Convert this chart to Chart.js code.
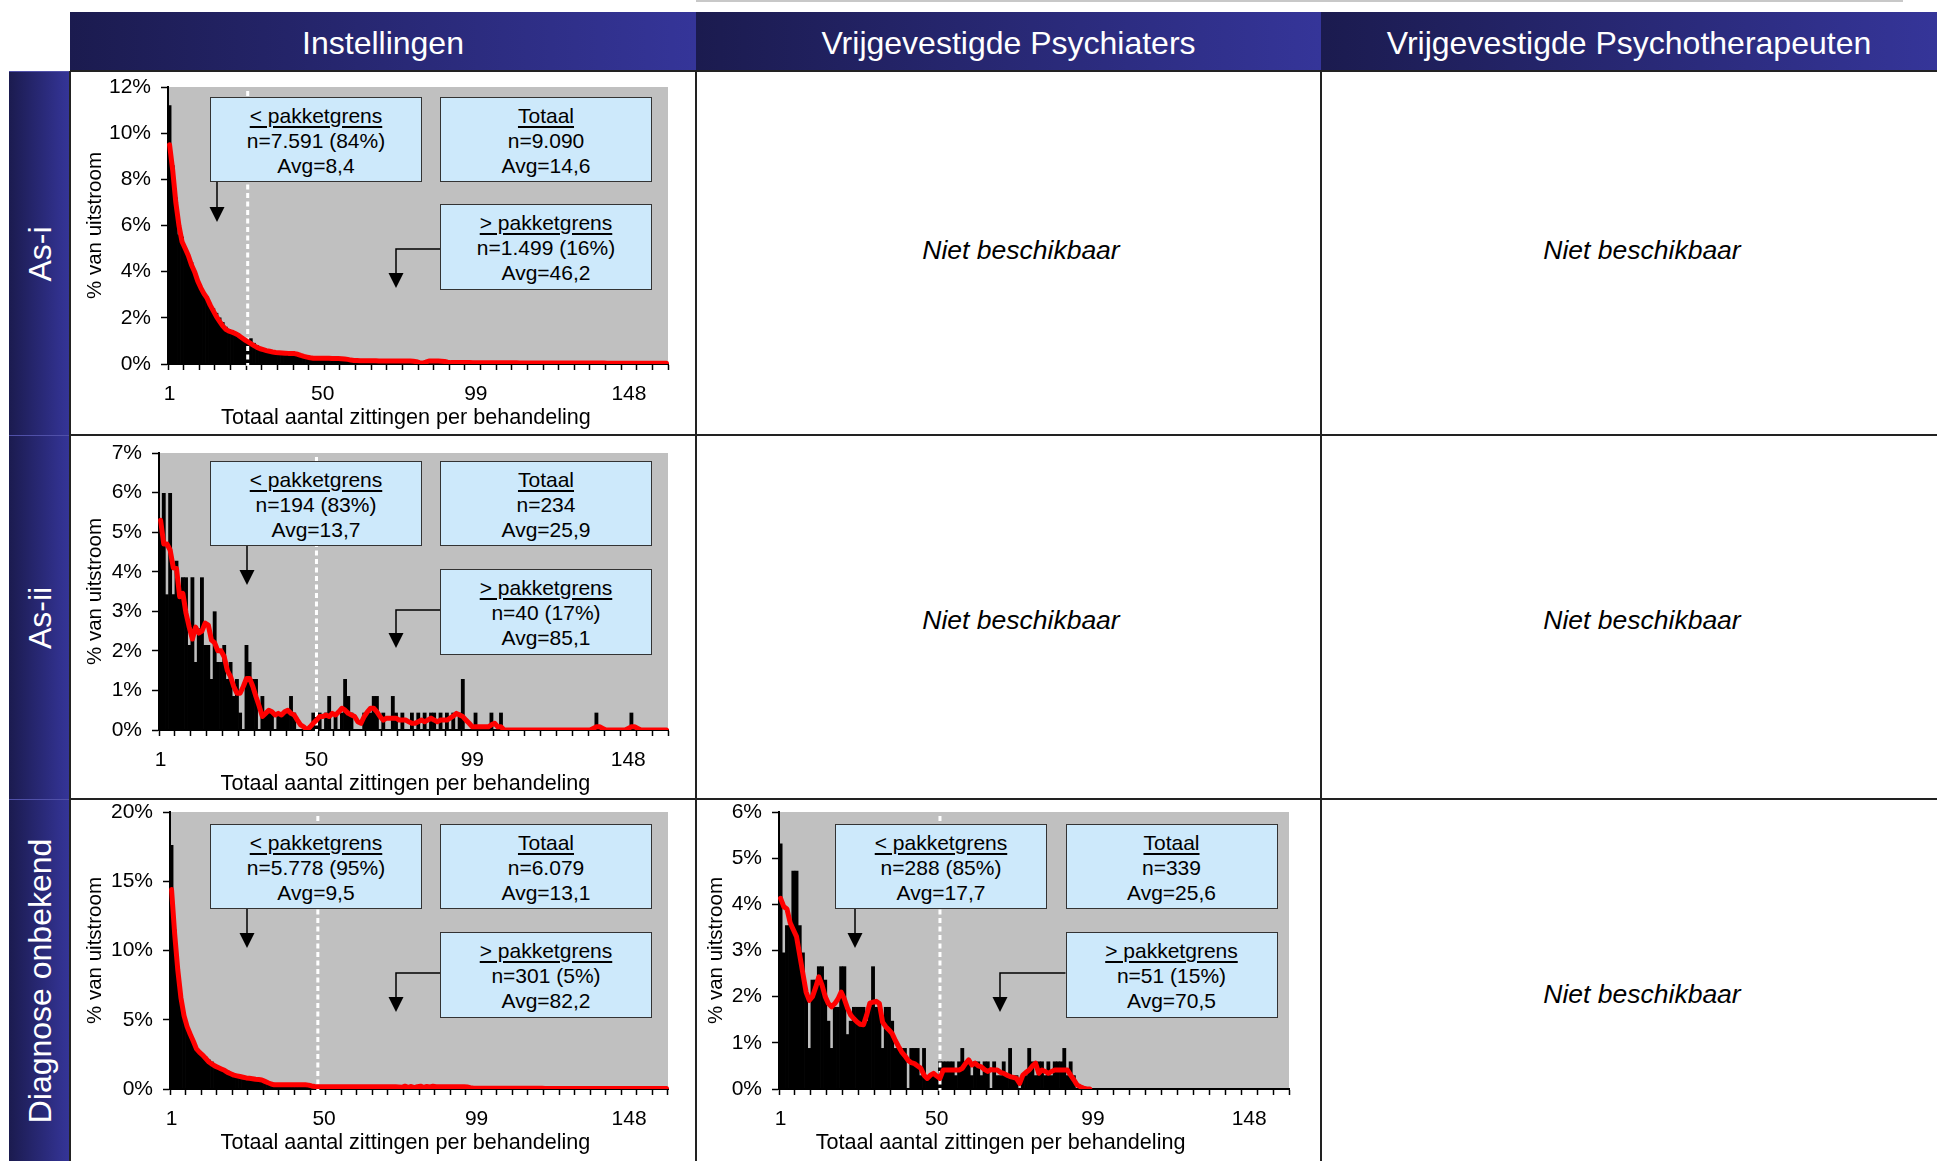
<!DOCTYPE html>
<html>
<head>
<meta charset="utf-8">
<script src="https://cdn.jsdelivr.net/npm/chart.js@4.4.1/dist/chart.umd.min.js"></script>
<style>
  body { margin: 0; width: 1937px; height: 1161px; position: relative; background: #fff; overflow: hidden;
         font-family: 'Liberation Sans', Arial, sans-serif; color: #000; }
  .head { position: absolute; top: 12px; height: 59px; color: #fff; font-size: 32px; padding-top: 4px; box-sizing: border-box;
          background: linear-gradient(to right, #1b1b4f, #353599); display: flex; align-items: center; justify-content: center; }
  .rowlab { position: absolute; left: 9px; width: 61px; background: linear-gradient(to right, #1b1b4f, #353599);
            border-top: 1px solid #5050a8; box-sizing: border-box; }
  .rowlab span { position: absolute; left: 50%; top: 50%; transform: translate(-50%, -50%) rotate(-90deg);
                 color: #fff; font-size: 32px; white-space: nowrap; }
  .line { position: absolute; background: #222; }
  .cell { position: absolute; }
  .cell canvas, .cell svg { position: absolute; left: 0; top: 0; }
  .box { position: absolute; background: #cde9fb; border: 1.5px solid #333; box-sizing: border-box;
         text-align: center; font-size: 21px; line-height: 25px; padding-top: 5px; height: 85px; }
  .box .t { text-decoration: underline; text-decoration-thickness: 2px; text-underline-offset: 3px; }
  .na { position: absolute; font-style: italic; font-size: 26.5px; transform: translate(-50%, -50%); white-space: nowrap; }
  .xt { position: absolute; font-size: 21.6px; transform: translate(-50%, -50%); white-space: nowrap; }
</style>
</head>
<body>
<div class="line" style="left:696px;top:0;width:1207px;height:2px;background:#c8c8c8"></div>
<div class="head" style="left:70px;width:626px">Instellingen</div>
<div class="head" style="left:696px;width:625px">Vrijgevestigde Psychiaters</div>
<div class="head" style="left:1321px;width:616px">Vrijgevestigde Psychotherapeuten</div>
<div class="rowlab" style="top:71px;height:364px"><span>As-i</span></div>
<div class="rowlab" style="top:435px;height:364px"><span>As-ii</span></div>
<div class="rowlab" style="top:799px;height:362px"><span>Diagnose onbekend</span></div>
<div class="line" style="left:70px;top:70px;width:1867px;height:2px"></div>
<div class="line" style="left:70px;top:434px;width:1867px;height:1.5px"></div>
<div class="line" style="left:70px;top:798px;width:1867px;height:1.5px"></div>
<div class="line" style="left:695px;top:71px;width:1.5px;height:1090px"></div>
<div class="line" style="left:1320px;top:71px;width:1.5px;height:1090px"></div>
<div class="line" style="left:69px;top:71px;width:1.5px;height:1090px"></div>
<div class="na" style="left:1021px;top:250px">Niet beschikbaar</div>
<div class="na" style="left:1642px;top:250px">Niet beschikbaar</div>
<div class="na" style="left:1021px;top:620px">Niet beschikbaar</div>
<div class="na" style="left:1642px;top:620px">Niet beschikbaar</div>
<div class="na" style="left:1642px;top:994px">Niet beschikbaar</div>

<script>
// Categories: total number of sessions per treatment
const sessions = [];
for (let i = 1; i <= 160; i++) sessions.push(String(i));
const shownTicks = ['1', '50', '99', '148'];

// As-i, Instellingen (% van uitstroom)
const asIBars = [
  11.2, 8.6, 7.2, 5.6, 5.5, 5.0, 4.6, 4.4, 3.9, 3.6,
  3.3, 3.1, 2.9, 2.6, 2.4, 2.2, 2.0, 1.8, 1.6, 1.5,
  1.45, 1.35, 1.3, 1.2, 1.1, 1.05, 1.1, 0.9, 0.8, 0.7,
  0.65, 0.6, 0.58, 0.52, 0.5, 0.5, 0.48, 0.47, 0.46, 0.46,
  0.44, 0.4, 0.35, 0.32, 0.3, 0.27, 0.25, 0.24, 0.23, 0.22,
  0.22, 0.21, 0.22, 0.2, 0.21, 0.2, 0.18, 0.15, 0.14, 0.13,
  0.12, 0.13, 0.12, 0.12, 0.11, 0.12, 0.11, 0.12, 0.1, 0.11,
  0.1, 0.11, 0.1, 0.12, 0.1, 0.1, 0.09, 0.1, 0.08, 0.1,
  0.07, 0.05, 0.1, 0.12, 0.11, 0.12, 0.1, 0.11, 0.1, 0.09,
  0.06, 0.05, 0.06, 0.05, 0.05, 0.06, 0.04, 0.05, 0.05, 0.04,
  0.04, 0.05, 0.04, 0.03, 0.04, 0.04, 0.03, 0.04, 0.03, 0.03,
  0.04, 0.03, 0.03, 0.04, 0.03, 0.02, 0.03, 0.03, 0.02, 0.03,
  0.03, 0.02, 0.03, 0.02, 0.03, 0.02, 0.02, 0.03, 0.02, 0.02,
  0.03, 0.02, 0.02, 0.02, 0.03, 0.02, 0.02, 0.02, 0.01, 0.02,
  0.02, 0.01, 0.02, 0.02, 0.01, 0.02, 0.01, 0.02, 0.01, 0.01,
  0.02, 0.01, 0.01, 0.01, 0.02, 0.01, 0.01, 0.01, 0.01, 0.02
];
const asIAvg = [
  9.5, 8.4, 7.0, 6.0, 5.3, 5.0, 4.7, 4.3, 4.0, 3.6,
  3.3, 3.05, 2.85, 2.55, 2.3, 2.05, 1.85, 1.65, 1.5, 1.42,
  1.38, 1.32, 1.25, 1.15, 1.05, 0.97, 0.88, 0.8, 0.72, 0.66,
  0.62, 0.58, 0.55, 0.52, 0.5, 0.49, 0.48, 0.47, 0.46, 0.46,
  0.45, 0.42, 0.37, 0.33, 0.3, 0.27, 0.25, 0.25, 0.25, 0.25,
  0.25, 0.25, 0.24, 0.24, 0.24, 0.23, 0.22, 0.2, 0.17, 0.15,
  0.15, 0.14, 0.14, 0.14, 0.14, 0.14, 0.14, 0.13, 0.13, 0.13,
  0.13, 0.13, 0.13, 0.13, 0.13, 0.13, 0.13, 0.13, 0.12, 0.1,
  0.06, 0.04, 0.08, 0.13, 0.13, 0.13, 0.13, 0.12, 0.11, 0.08,
  0.06, 0.06, 0.06, 0.06, 0.06, 0.06, 0.06, 0.05, 0.05, 0.05,
  0.05, 0.05, 0.05, 0.05, 0.05, 0.05, 0.05, 0.05, 0.05, 0.05,
  0.05, 0.05, 0.04, 0.04, 0.04, 0.04, 0.04, 0.04, 0.04, 0.04,
  0.04, 0.04, 0.04, 0.04, 0.04, 0.04, 0.04, 0.04, 0.04, 0.04,
  0.04, 0.04, 0.04, 0.04, 0.04, 0.04, 0.04, 0.04, 0.04, 0.04,
  0.03, 0.03, 0.03, 0.03, 0.03, 0.03, 0.03, 0.03, 0.03, 0.03,
  0.03, 0.03, 0.03, 0.03, 0.03, 0.03, 0.03, 0.03, 0.03, 0.03
];

// As-ii, Instellingen
const asIIBars = [
  5.13, 5.98, 3.42, 5.98, 3.42, 4.27, 3.42, 3.85, 3.85, 2.14,
  3.85, 1.71, 2.56, 3.85, 2.14, 2.14, 1.28, 2.99, 1.71, 1.71,
  2.14, 1.28, 1.71, 0.85, 1.28, 0.43, 0, 2.14, 1.71, 1.28,
  1.28, 0, 0.85, 0.43, 0.43, 0.43, 0, 0.43, 0.43, 0.43,
  0.43, 0.85, 0.43, 0, 0, 0, 0, 0, 0.43, 0.43,
  0.43, 0, 0.43, 0.85, 0, 0.43, 0, 0.43, 1.28, 0.85,
  0.43, 0, 0, 0, 0.43, 0.43, 0.43, 0.85, 0.85, 0,
  0.43, 0, 0, 0.85, 0.43, 0, 0.43, 0, 0, 0.43,
  0, 0.43, 0, 0.43, 0, 0.43, 0.43, 0, 0.43, 0,
  0.43, 0, 0.43, 0, 0.43, 1.28, 0, 0, 0, 0.43,
  0, 0, 0, 0, 0.43, 0, 0, 0.43, 0, 0,
  0, 0, 0, 0, 0, 0, 0, 0, 0, 0,
  0, 0, 0, 0, 0, 0, 0, 0, 0, 0,
  0, 0, 0, 0, 0, 0, 0, 0.43, 0, 0,
  0, 0, 0, 0, 0, 0, 0, 0, 0.43, 0,
  0, 0, 0, 0, 0, 0, 0, 0, 0, 0
];
const asIIAvg = [
  5.3, 4.7, 4.7, 4.55, 4.1, 4.08, 3.37, 3.45, 2.95, 2.6,
  2.3, 2.6, 2.45, 2.5, 2.7, 2.65, 2.27, 2.2, 2.0, 2.0,
  1.85, 1.5, 1.35, 1.1, 0.93, 0.93, 1.1, 1.3, 1.3, 1.1,
  0.84, 0.6, 0.34, 0.42, 0.5, 0.46, 0.38, 0.42, 0.38, 0.46,
  0.5, 0.42, 0.38, 0.25, 0.13, 0.08, 0, 0.08, 0.17, 0.25,
  0.34, 0.34, 0.38, 0.34, 0.42, 0.38, 0.46, 0.55, 0.5, 0.42,
  0.38, 0.34, 0.21, 0.17, 0.34, 0.46, 0.55, 0.55, 0.46, 0.34,
  0.25, 0.3, 0.3, 0.3, 0.3, 0.25, 0.25, 0.25, 0.21, 0.17,
  0.17, 0.21, 0.25, 0.21, 0.25, 0.3, 0.25, 0.21, 0.25, 0.25,
  0.25, 0.3, 0.35, 0.42, 0.38, 0.34, 0.25, 0.17, 0.08, 0.08,
  0.08, 0.08, 0.08, 0.08, 0.13, 0.17, 0.08, 0.08, 0, 0,
  0, 0, 0, 0, 0, 0, 0, 0, 0, 0,
  0, 0, 0, 0, 0, 0, 0, 0, 0, 0,
  0, 0, 0, 0, 0, 0, 0.04, 0.08, 0.08, 0.04,
  0, 0, 0, 0, 0, 0, 0, 0.04, 0.08, 0.08,
  0.04, 0, 0, 0, 0, 0, 0, 0, 0, 0
];

// Diagnose onbekend, Instellingen
const onbInstBars = [
  17.6, 11.5, 8.5, 6.6, 5.5, 4.6, 4.0, 3.3, 2.9, 2.6,
  2.5, 2.3, 2.1, 1.95, 1.75, 1.6, 1.5, 1.4, 1.3, 1.2,
  1.1, 1.0, 0.95, 0.9, 0.85, 0.8, 0.75, 0.8, 0.7, 0.65,
  0.6, 0.5, 0.42, 0.35, 0.32, 0.3, 0.3, 0.28, 0.3, 0.29,
  0.3, 0.28, 0.3, 0.29, 0.27, 0.2, 0.16, 0.15, 0.16, 0.15,
  0.16, 0.15, 0.14, 0.16, 0.15, 0.15, 0.14, 0.16, 0.15, 0.14,
  0.15, 0.16, 0.15, 0.14, 0.15, 0.16, 0.15, 0.14, 0.15, 0.15,
  0.14, 0.16, 0.15, 0.12, 0.18, 0.1, 0.16, 0.2, 0.12, 0.18,
  0.14, 0.1, 0.18, 0.2, 0.15, 0.12, 0.16, 0.18, 0.15, 0.16,
  0.15, 0.16, 0.17, 0.15, 0.16, 0.15, 0.1, 0.06, 0.05, 0.05,
  0.05, 0.04, 0.05, 0.05, 0.04, 0.05, 0.04, 0.05, 0.04, 0.04,
  0.05, 0.04, 0.04, 0.03, 0.04, 0.04, 0.03, 0.04, 0.03, 0.04,
  0.03, 0.03, 0.04, 0.03, 0.03, 0.02, 0.03, 0.03, 0.02, 0.03,
  0.03, 0.02, 0.03, 0.02, 0.02, 0.03, 0.02, 0.02, 0.02, 0.02,
  0.02, 0.02, 0.01, 0.02, 0.02, 0.01, 0.02, 0.01, 0.02, 0.01,
  0.01, 0.02, 0.01, 0.01, 0.01, 0.02, 0.01, 0.01, 0.01, 0.01
];
const onbInstAvg = [
  14.4, 11.2, 8.6, 6.6, 5.3, 4.5, 3.95, 3.45, 2.9, 2.65,
  2.45, 2.2, 1.95, 1.8, 1.65, 1.55, 1.45, 1.35, 1.2, 1.1,
  1.0, 0.95, 0.9, 0.85, 0.8, 0.77, 0.74, 0.7, 0.68, 0.65,
  0.55, 0.45, 0.36, 0.3, 0.3, 0.3, 0.3, 0.3, 0.3, 0.3,
  0.3, 0.3, 0.3, 0.3, 0.28, 0.22, 0.18, 0.17, 0.17, 0.17,
  0.17, 0.17, 0.17, 0.17, 0.17, 0.17, 0.17, 0.17, 0.17, 0.17,
  0.17, 0.17, 0.17, 0.17, 0.17, 0.17, 0.17, 0.17, 0.17, 0.17,
  0.17, 0.17, 0.16, 0.15, 0.12, 0.2, 0.12, 0.18, 0.1, 0.17,
  0.2, 0.12, 0.18, 0.15, 0.2, 0.17, 0.16, 0.17, 0.17, 0.17,
  0.17, 0.17, 0.17, 0.17, 0.17, 0.15, 0.1, 0.06, 0.05, 0.05,
  0.05, 0.05, 0.05, 0.05, 0.05, 0.05, 0.05, 0.05, 0.05, 0.05,
  0.05, 0.05, 0.05, 0.05, 0.05, 0.05, 0.05, 0.05, 0.05, 0.05,
  0.04, 0.04, 0.04, 0.04, 0.04, 0.04, 0.04, 0.04, 0.04, 0.04,
  0.04, 0.04, 0.04, 0.04, 0.04, 0.04, 0.04, 0.04, 0.04, 0.04,
  0.04, 0.04, 0.04, 0.04, 0.04, 0.04, 0.04, 0.04, 0.04, 0.04,
  0.04, 0.04, 0.04, 0.04, 0.04, 0.04, 0.04, 0.04, 0.04, 0.04
];

// Diagnose onbekend, Vrijgevestigde Psychiaters
const onbPsyBars = [
  5.31, 2.95, 3.54, 3.54, 4.72, 4.72, 3.54, 2.95, 2.06, 0.88,
  2.36, 2.36, 2.65, 2.65, 2.36, 1.47, 0.88, 1.77, 1.77, 2.65,
  2.65, 1.18, 1.47, 1.77, 1.77, 1.77, 1.77, 1.47, 1.77, 2.65,
  1.77, 1.77, 0.88, 1.77, 1.77, 1.47, 0.88, 0.88, 0.88, 0.88,
  0, 0.88, 0.88, 0.88, 0.29, 0.88, 0.29, 0.29, 0.29, 0.29,
  0.59, 0.59, 0.59, 0.59, 0.59, 0.29, 0.59, 0.88, 0.59, 0.59,
  0.29, 0.59, 0.59, 0.29, 0.59, 0.59, 0, 0.59, 0.29, 0.29,
  0.59, 0.29, 0.88, 0.29, 0.29, 0, 0.29, 0.29, 0.88, 0.59,
  0.29, 0.59, 0.59, 0.29, 0.59, 0.29, 0.59, 0.59, 0.59, 0.88,
  0.29, 0.59, 0.29, 0, 0, 0, 0, 0, 0, 0,
  0, 0, 0, 0, 0, 0, 0, 0, 0, 0,
  0, 0, 0, 0, 0, 0, 0, 0, 0, 0,
  0, 0, 0, 0, 0, 0, 0, 0, 0, 0,
  0, 0, 0, 0, 0, 0, 0, 0, 0, 0,
  0, 0, 0, 0, 0, 0, 0, 0, 0, 0,
  0, 0, 0, 0, 0, 0, 0, 0, 0, 0
];
const onbPsyAvg = [
  4.13, 3.95, 3.9, 3.6, 3.45, 3.3, 2.9, 2.5, 2.1, 1.92,
  2.0, 2.2, 2.43, 2.25, 2.0, 1.85, 1.78, 1.85, 1.95, 2.1,
  1.95, 1.75, 1.6, 1.52, 1.45, 1.4, 1.39, 1.6, 1.86, 1.88,
  1.9, 1.85, 1.45, 1.35, 1.28, 1.2, 1.05, 0.92, 0.8, 0.72,
  0.62, 0.57, 0.55, 0.5, 0.45, 0.3, 0.23, 0.3, 0.34, 0.28,
  0.23, 0.41, 0.41, 0.41, 0.41, 0.41, 0.41, 0.45, 0.55, 0.63,
  0.52, 0.56, 0.5, 0.48, 0.42, 0.38, 0.42, 0.41, 0.41, 0.36,
  0.34, 0.3, 0.27, 0.25, 0.23, 0.12, 0.3, 0.36, 0.41, 0.5,
  0.56, 0.34, 0.41, 0.38, 0.34, 0.38, 0.41, 0.41, 0.41, 0.41,
  0.41, 0.3, 0.2, 0.09, 0.05, 0.02, 0, 0
];

// Annotation box texts
const asIBoxes = [['< pakketgrens', 'n=7.591 (84%)', 'Avg=8,4'], ['Totaal', 'n=9.090', 'Avg=14,6'], ['> pakketgrens', 'n=1.499 (16%)', 'Avg=46,2']];
const asIIBoxes = [['< pakketgrens', 'n=194 (83%)', 'Avg=13,7'], ['Totaal', 'n=234', 'Avg=25,9'], ['> pakketgrens', 'n=40 (17%)', 'Avg=85,1']];
const onbInstBoxes = [['< pakketgrens', 'n=5.778 (95%)', 'Avg=9,5'], ['Totaal', 'n=6.079', 'Avg=13,1'], ['> pakketgrens', 'n=301 (5%)', 'Avg=82,2']];
const onbPsyBoxes = [['< pakketgrens', 'n=288 (85%)', 'Avg=17,7'], ['Totaal', 'n=339', 'Avg=25,6'], ['> pakketgrens', 'n=51 (15%)', 'Avg=70,5']];

// Panel layout (cell = [left, top, width, height]; plot = [left, top, right, bottom] inside the cell)
const panels = [
  { cell: [70, 71, 626, 364], plot: [98, 16, 598, 293], yMax: 12, yStep: 2, bars: asIBars, avg: asIAvg, grens: '26',
    boxes: asIBoxes, boxPos: [[140, 26], [370, 26], [370, 133]], arrow: { ax: 147, tipA: 151, cx: 326, cy: 178, tipC: 217 },
    yTitle: 25, xTitle: [406, 417] },
  { cell: [70, 435, 626, 364], plot: [89, 18, 598, 295], yMax: 7, yStep: 1, bars: asIIBars, avg: asIIAvg, grens: '50',
    boxes: asIIBoxes, boxPos: [[140, 26], [370, 26], [370, 134]], arrow: { ax: 177, tipA: 150, cx: 326, cy: 175, tipC: 213 },
    yTitle: 25, xTitle: [405.5, 783] },
  { cell: [70, 799, 626, 362], plot: [100, 13, 598, 290], yMax: 20, yStep: 5, bars: onbInstBars, avg: onbInstAvg, grens: '48',
    boxes: onbInstBoxes, boxPos: [[140, 25], [370, 25], [370, 133]], arrow: { ax: 177, tipA: 149, cx: 326, cy: 174, tipC: 213 },
    yTitle: 25, xTitle: [405.5, 1142] },
  { cell: [696, 799, 625, 362], plot: [83, 13, 593, 290], yMax: 6, yStep: 1, bars: onbPsyBars, avg: onbPsyAvg, grens: '51',
    boxes: onbPsyBoxes, boxPos: [[139, 25], [369.5, 25], [369.5, 133]], arrow: { ax: 159, tipA: 149, cx: 304, cy: 174, tipC: 213 },
    yTitle: 20.5, xTitle: [1000.6, 1141.7] }
];

Chart.defaults.font.family = "'Liberation Sans', Arial, sans-serif";
Chart.defaults.color = '#000';

// grey plot area + white dashed "pakketgrens" line drawn between the bars and the red line
const backdrop = {
  id: 'backdrop',
  beforeDraw(chart) {
    const { ctx, chartArea: a } = chart;
    ctx.save();
    ctx.fillStyle = '#c0c0c0';
    ctx.fillRect(a.left, a.top, a.right - a.left, a.bottom - a.top);
    ctx.restore();
  },
  beforeDatasetDraw(chart, args, opts) {
    if (args.index !== 0) return;
    const { ctx, chartArea: a } = chart;
    const x = chart.scales.x.getPixelForValue(sessions.indexOf(opts.grens));
    ctx.save();
    ctx.strokeStyle = '#fff';
    ctx.lineWidth = 3;
    ctx.setLineDash([5, 3.5]);
    ctx.beginPath();
    ctx.moveTo(x, a.top + 4);
    ctx.lineTo(x, a.bottom + 2);
    ctx.stroke();
    ctx.restore();
  }
};

const EXTRA_TOP = 24;   // canvas starts above the cell so the top tick label never pushes the plot down

function makePanel(p) {
  const [cl, ct, cw, ch] = p.cell;
  const cell = document.createElement('div');
  cell.className = 'cell';
  cell.style.cssText = `left:${cl}px;top:${ct}px;width:${cw}px;height:${ch}px`;
  const canvas = document.createElement('canvas');
  canvas.width = cw;
  canvas.height = ch + EXTRA_TOP;
  canvas.style.top = -EXTRA_TOP + 'px';
  cell.appendChild(canvas);

  // arrows
  const a = p.arrow;
  const aBottom = p.boxPos[0][1] + 85;
  const cLeft = p.boxPos[2][0];
  cell.insertAdjacentHTML('beforeend', `
    <svg width="${cw}" height="${ch}">
      <line x1="${a.ax}" y1="${aBottom}" x2="${a.ax}" y2="${a.tipA - 15}" stroke="#000" stroke-width="1.5"/>
      <polygon points="${a.ax - 7.5},${a.tipA - 15} ${a.ax + 7.5},${a.tipA - 15} ${a.ax},${a.tipA}" fill="#000"/>
      <polyline points="${cLeft},${a.cy} ${a.cx},${a.cy} ${a.cx},${a.tipC - 15}" fill="none" stroke="#000" stroke-width="1.5"/>
      <polygon points="${a.cx - 7.5},${a.tipC - 15} ${a.cx + 7.5},${a.tipC - 15} ${a.cx},${a.tipC}" fill="#000"/>
    </svg>`);

  // text boxes
  p.boxes.forEach((lines, i) => {
    const b = document.createElement('div');
    b.className = 'box';
    b.style.cssText = `left:${p.boxPos[i][0]}px;top:${p.boxPos[i][1]}px;width:212px;` + (i === 2 ? 'height:86px;' : '');
    b.innerHTML = `<span class="t">${lines[0].replace('<', '&lt;').replace('>', '&gt;')}</span><br>${lines[1]}<br>${lines[2]}`;
    cell.appendChild(b);
  });
  document.body.appendChild(cell);

  const xt = document.createElement('div');
  xt.className = 'xt';
  xt.style.cssText = `left:${p.xTitle[0]}px;top:${p.xTitle[1]}px`;
  xt.textContent = 'Totaal aantal zittingen per behandeling';
  document.body.appendChild(xt);

  new Chart(canvas, {
    type: 'bar',
    data: {
      labels: sessions,
      datasets: [
        { type: 'line', data: p.avg, borderColor: '#ff0000', borderWidth: 5, pointRadius: 0, tension: 0,
          borderJoinStyle: 'round', borderCapStyle: 'round', fill: false, order: 0 },
        { type: 'bar', data: p.bars, backgroundColor: '#000', barPercentage: 1, categoryPercentage: 1,
          borderWidth: 0, order: 1 }
      ]
    },
    options: {
      responsive: false,
      animation: false,
      events: [],
      layout: { padding: { left: 0, top: p.plot[1] + EXTRA_TOP, right: cw - p.plot[2], bottom: 0 } },
      plugins: { legend: { display: false }, tooltip: { enabled: false }, backdrop: { grens: p.grens } },
      scales: {
        x: {
          grid: { drawOnChartArea: false, tickLength: 6, tickWidth: 1.5,
                  tickColor: c => (c.index === undefined || c.index % 5 === 0) ? '#000' : 'rgba(0,0,0,0)' },
          border: { color: '#000', width: 2 },
          ticks: { autoSkip: false, maxRotation: 0, minRotation: 0, padding: 12, font: { size: 21 }, color: '#000',
                   callback(v) { const l = this.getLabelForValue(v); return shownTicks.includes(l) ? l : ''; } },
          afterFit: s => { s.height = ch - p.plot[3]; }
        },
        y: {
          min: 0, max: p.yMax,
          grid: { drawOnChartArea: false, tickLength: 7, tickWidth: 1.5, tickColor: '#000' },
          border: { color: '#000', width: 2 },
          ticks: { stepSize: p.yStep, padding: 10, font: { size: 21 }, color: '#000', callback: v => v + '%' },
          title: { display: true, text: '% van uitstroom', font: { size: 20.5 }, color: '#000',
                   padding: { top: p.yTitle - 12.3, bottom: 0 } },
          afterFit: s => { s.width = p.plot[0]; }
        }
      }
    },
    plugins: [backdrop]
  });
}

panels.forEach(makePanel);
</script>
</body>
</html>
